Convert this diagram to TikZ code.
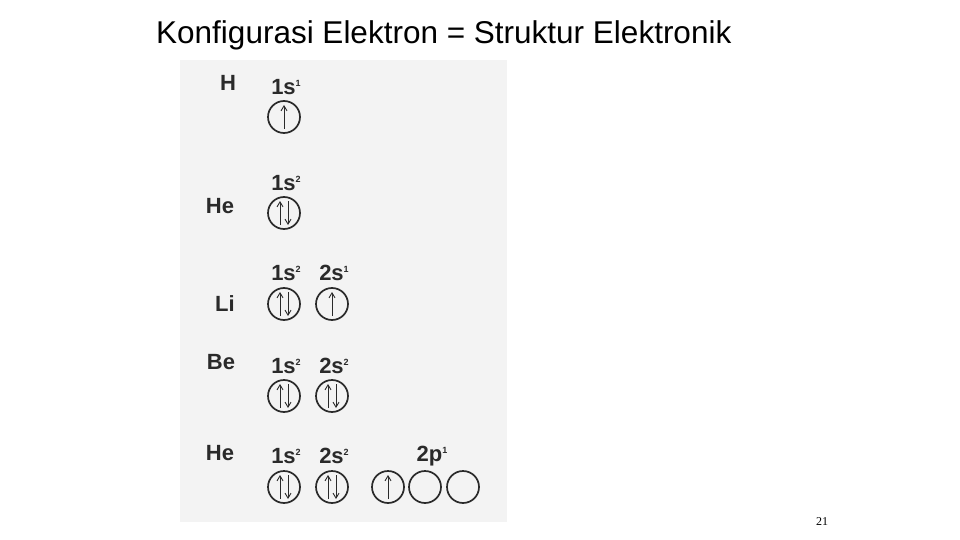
\documentclass[tikz,border=0pt]{standalone}
\usepackage{fontspec}
\setmainfont{Liberation Sans}
\newfontfamily\timesfont{Liberation Serif}
\usetikzlibrary{arrows.meta}
\definecolor{scanbg}{HTML}{F3F3F3}
\definecolor{ink}{HTML}{2A2A2A}
\tikzset{
  orb/.style={circle,draw=ink,line width=1.7pt,minimum size=32pt,inner sep=0pt},
  lbl/.style={font=\fontsize{22}{22}\selectfont\bfseries,text=ink,inner sep=0pt},
  sub/.style={font=\fontsize{22}{22}\selectfont\bfseries,text=ink,inner sep=0pt},
  spin/.style={draw=ink,line width=0.9pt,-{Straight Barb[length=5pt,width=6pt]}}
}
\newcommand{\orbtext}[2]{#1\raisebox{8pt}{\fontsize{9}{9}\selectfont #2}}
\newcommand{\pairspin}[1]{%
  \draw[spin] ([xshift=-4pt,yshift=-12pt]#1.center) -- ([xshift=-4pt,yshift=12pt]#1.center);
  \draw[spin] ([xshift=4pt,yshift=12pt]#1.center) -- ([xshift=4pt,yshift=-12pt]#1.center);}
\newcommand{\upspin}[1]{%
  \draw[spin] ([yshift=-12pt]#1.center) -- ([yshift=12pt]#1.center);}
\begin{document}
\begin{tikzpicture}[x=1pt,y=-1pt]
\useasboundingbox (0,0) rectangle (960,540);
\fill[white] (0,0) rectangle (960,540);
\node[font=\fontsize{31.5}{31.5}\selectfont,anchor=west,inner sep=0pt] (title) at (156,35) {Konfigurasi Elektron = Struktur Elektronik};
\fill[scanbg] (180,60) rectangle (507,522);
% H
\node[lbl] (hlab) at (228,83) {H};
\node[sub] (h1s) at (286,87) {\orbtext{1s}{1}};
\node[orb] (hc1) at (284,117) {};
\upspin{hc1}
% He
\node[lbl] (helab) at (220,206) {He};
\node[sub] (he1s) at (286,183) {\orbtext{1s}{2}};
\node[orb] (hec1) at (284,213) {};
\pairspin{hec1}
% Li
\node[lbl] (lilab) at (225,304) {Li};
\node[sub] (li1s) at (286,273) {\orbtext{1s}{2}};
\node[sub] (li2s) at (334,273) {\orbtext{2s}{1}};
\node[orb] (lic1) at (284,304) {};
\node[orb] (lic2) at (332,304) {};
\pairspin{lic1}
\upspin{lic2}
% Be
\node[lbl] (belab) at (221,362) {Be};
\node[sub] (be1s) at (286,366) {\orbtext{1s}{2}};
\node[sub] (be2s) at (334,366) {\orbtext{2s}{2}};
\node[orb] (bec1) at (284,396) {};
\node[orb] (bec2) at (332,396) {};
\pairspin{bec1}
\pairspin{bec2}
% He (B)
\node[lbl] (blab) at (220,453) {He};
\node[sub] (b1s) at (286,456) {\orbtext{1s}{2}};
\node[sub] (b2s) at (334,456) {\orbtext{2s}{2}};
\node[sub] (b2p) at (432,456) {\orbtext{2p}{1}};
\node[orb] (bc1) at (284,487) {};
\node[orb] (bc2) at (332,487) {};
\node[orb] (bp1) at (388,487) {};
\node[orb] (bp2) at (425,487) {};
\node[orb] (bp3) at (463,487) {};
\pairspin{bc1}
\pairspin{bc2}
\upspin{bp1}
% page number
\node[font=\timesfont\fontsize{12}{12}\selectfont,inner sep=0pt] (pnum) at (822,522) {21};
\end{tikzpicture}
\end{document}
